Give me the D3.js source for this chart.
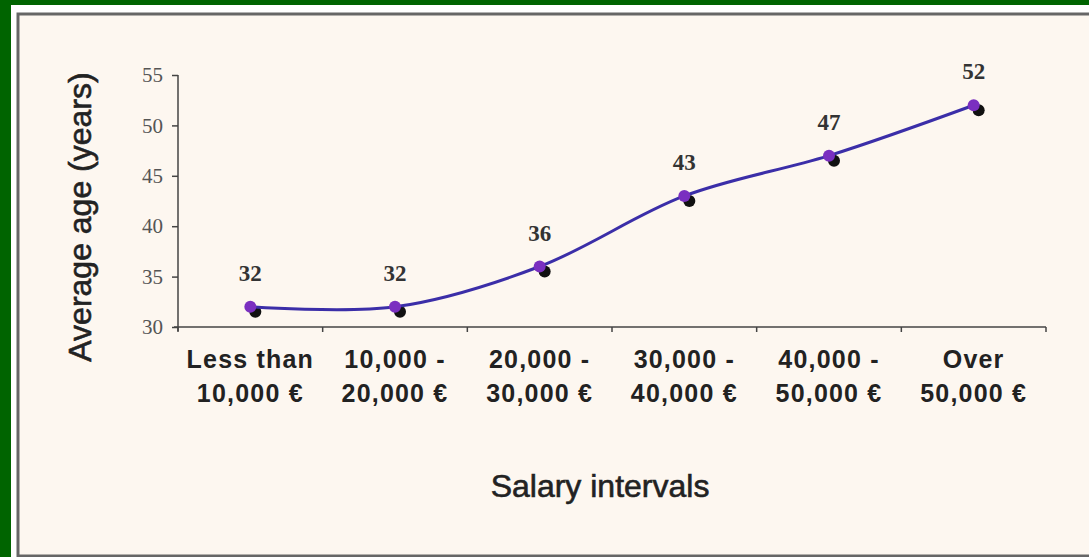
<!DOCTYPE html>
<html>
<head>
<meta charset="utf-8">
<script src="https://cdn.jsdelivr.net/npm/d3@7"></script>
<style>
  html, body { margin: 0; padding: 0; background: #006400; }
  svg { display: block; }
</style>
</head>
<body>
<div id="chart"></div>
<script>
// data
const categories = [
    ["Less than", "10,000 €"],
    ["10,000 -", "20,000 €"],
    ["20,000 -", "30,000 €"],
    ["30,000 -", "40,000 €"],
    ["40,000 -", "50,000 €"],
    ["Over", "50,000 €"]
];
const ages = [32, 32, 36, 43, 47, 52];
const yTicks = [30, 35, 40, 45, 50, 55];

const width = 1089;
const height = 557;

const svg = d3.select("#chart")
    .append("svg")
    .attr("width", width)
    .attr("height", height);

// frame: green edge, white strip, grey border, cream panel
svg.append("rect")
    .attr("x", 11).attr("y", 5)
    .attr("width", width - 11).attr("height", height - 5)
    .attr("fill", "#ffffff");

svg.append("rect")
    .attr("x", 18).attr("y", 14)
    .attr("width", width).attr("height", height - 15)
    .attr("fill", "#fdf7f0")
    .attr("stroke", "#666")
    .attr("stroke-width", 3);

// scales
const x = d3.scaleBand()
    .domain(d3.range(categories.length))
    .range([178, 1046]);

const y = d3.scaleLinear()
    .domain([30, 55])
    .range([327, 75]);

// y axis
const yAxis = svg.append("g")
    .attr("transform", "translate(178,0)")
    .call(d3.axisLeft(y).tickValues(yTicks).tickSize(6).tickPadding(9));

yAxis.select(".domain").attr("stroke", "#444").attr("stroke-width", 1.5)
    .attr("d", "M0,75V331");
yAxis.selectAll(".tick line").attr("stroke", "#444").attr("stroke-width", 1.5);
yAxis.selectAll(".tick text")
    .attr("font-family", "Liberation Serif, serif")
    .attr("font-size", 21)
    .attr("fill", "#555");

// x axis with ticks at category boundaries
const xAxis = svg.append("g")
    .attr("transform", "translate(0,327)");

xAxis.append("line")
    .attr("x1", x.range()[0] - 4).attr("x2", x.range()[1])
    .attr("stroke", "#444").attr("stroke-width", 1.5);

xAxis.selectAll(".xtick")
    .data(d3.range(categories.length + 1))
    .enter()
    .append("line")
    .attr("class", "xtick")
    .attr("x1", i => x.range()[0] + i * x.step())
    .attr("x2", i => x.range()[0] + i * x.step())
    .attr("y1", 0).attr("y2", 5)
    .attr("stroke", "#444").attr("stroke-width", 1.5);

// category labels
const catLabels = svg.selectAll(".cat")
    .data(categories)
    .enter()
    .append("text")
    .attr("class", "cat")
    .attr("text-anchor", "middle")
    .attr("font-family", "Liberation Sans, Arial, sans-serif")
    .attr("font-weight", "bold")
    .attr("font-size", 25)
    .attr("letter-spacing", 1.2)
    .attr("fill", "#222");

catLabels.each(function(d, i) {
    const t = d3.select(this);
    d.forEach((line, j) => {
        t.append("tspan")
            .attr("x", x(i) + x.bandwidth() / 2)
            .attr("y", 368 + j * 34)
            .text(line);
    });
});

// smoothed line
const line = d3.line()
    .x((d, i) => x(i) + x.bandwidth() / 2)
    .y(d => y(d))
    .curve(d3.curveCatmullRom.alpha(0.5));

// shadow markers
svg.selectAll(".shadow")
    .data(ages)
    .enter()
    .append("circle")
    .attr("cx", (d, i) => x(i) + x.bandwidth() / 2 + 5)
    .attr("cy", d => y(d) + 5)
    .attr("r", 6)
    .attr("fill", "#111");

svg.append("path")
    .datum(ages)
    .attr("d", line)
    .attr("fill", "none")
    .attr("stroke", "#3b2ea8")
    .attr("stroke-width", 3);

svg.selectAll(".marker")
    .data(ages)
    .enter()
    .append("circle")
    .attr("cx", (d, i) => x(i) + x.bandwidth() / 2)
    .attr("cy", d => y(d))
    .attr("r", 6)
    .attr("fill", "#7a2fc0");

// value labels
svg.selectAll(".val")
    .data(ages)
    .enter()
    .append("text")
    .attr("x", (d, i) => x(i) + x.bandwidth() / 2)
    .attr("y", d => y(d) - 26)
    .attr("text-anchor", "middle")
    .attr("font-family", "Liberation Serif, serif")
    .attr("font-weight", "bold")
    .attr("font-size", 23)
    .attr("fill", "#333")
    .text(d => d);

// axis titles
svg.append("text")
    .attr("x", 600)
    .attr("y", 497)
    .attr("text-anchor", "middle")
    .attr("font-family", "Liberation Sans, Arial, sans-serif")
    .attr("font-size", 32)
    .attr("fill", "#222")
    .attr("stroke", "#222")
    .attr("stroke-width", 0.6)
    .text("Salary intervals");

svg.append("text")
    .attr("transform", "translate(91,217) rotate(-90)")
    .attr("text-anchor", "middle")
    .attr("font-family", "Liberation Sans, Arial, sans-serif")
    .attr("font-size", 32)
    .attr("fill", "#222")
    .attr("stroke", "#222")
    .attr("stroke-width", 0.6)
    .text("Average age (years)");
</script>
</body>
</html>
